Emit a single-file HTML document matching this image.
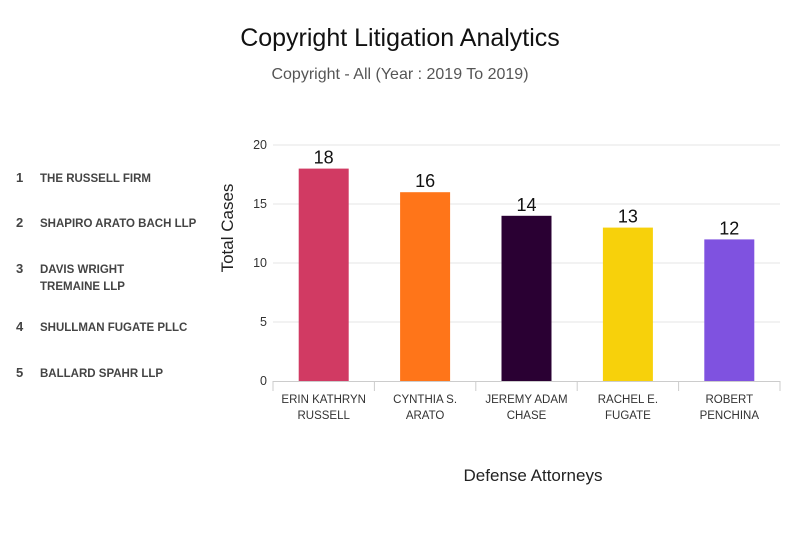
<!DOCTYPE html>
<html><head><meta charset="utf-8">
<style>
body{margin:0;background:#fff;font-family:"Liberation Sans",sans-serif;}
.wrap{position:relative;width:800px;height:534px;overflow:hidden;}
.list{position:absolute;left:16px;font-size:11.5px;font-weight:bold;color:#444;}
.list span.n{position:absolute;left:0;width:14px;font-size:13px;top:-1px;}
.list span.t{position:absolute;left:24px;width:220px;line-height:17px;white-space:nowrap;}
</style></head>
<body>
<div class="wrap">
<div>
<div class="list" style="top:171px"><span class="n">1</span><span class="t">THE RUSSELL FIRM</span></div>
<div class="list" style="top:216px"><span class="n">2</span><span class="t">SHAPIRO ARATO BACH LLP</span></div>
<div class="list" style="top:262px"><span class="n">3</span><span class="t">DAVIS WRIGHT<br>TREMAINE LLP</span></div>
<div class="list" style="top:320px"><span class="n">4</span><span class="t">SHULLMAN FUGATE PLLC</span></div>
<div class="list" style="top:366px"><span class="n">5</span><span class="t">BALLARD SPAHR LLP</span></div>
</div>
<svg id="chart" width="800" height="534" style="position:absolute;left:0;top:0"></svg>
</div>
<script>
const categories=[["ERIN KATHRYN","RUSSELL"],["CYNTHIA S.","ARATO"],["JEREMY ADAM","CHASE"],["RACHEL E.","FUGATE"],["ROBERT","PENCHINA"]];
const values=[18,16,14,13,12];
const colors=["#d13a63","#ff7519","#2a0033","#f7d10b","#7f52e0"];
const yTicks=[0,5,10,15,20];
const NS="http://www.w3.org/2000/svg";
const svg=document.getElementById('chart');
const x0=273,x1=780,yb=381,yt=145,yMax=20;
const bw=(x1-x0)/categories.length;
function y(v){return yb-(v/yMax)*(yb-yt);}
function xc(i){return x0+bw*(i+0.5);}
function mk(tag,attrs,text){const e=document.createElementNS(NS,tag);for(const k in attrs)e.setAttribute(k,attrs[k]);if(text!=null)e.textContent=text;svg.appendChild(e);return e;}
let e;
e=mk('text',{x:400,y:46,'text-anchor':'middle','font-size':25,fill:'#111'},'Copyright Litigation Analytics');


e=mk('text',{x:400,y:79,'text-anchor':'middle','font-size':16,fill:'#555'},'Copyright - All (Year : 2019 To 2019)');


yTicks.forEach(t=>{
 if(t>0){e=mk('line',{x1:x0,x2:x1,y1:y(t),y2:y(t),stroke:'#e6e6e6','stroke-width':1});
 
 }
 e=mk('text',{x:x0-6,y:y(t)+4,'text-anchor':'end','font-size':12.5,fill:'#333'},t);
 
 
});
e=mk('line',{x1:x0,x2:x1,y1:yb+0.5,y2:yb+0.5,stroke:'#ccc','stroke-width':1});


for(let i=0;i<=categories.length;i++){
 e=mk('line',{x1:x0+bw*i,x2:x0+bw*i,y1:yb,y2:yb+10,stroke:'#ccc','stroke-width':1});
 
 
}
values.forEach((v,i)=>{
 e=mk('rect',{x:xc(i)-25,y:y(v),width:50,height:yb-y(v),fill:colors[i]});
 
 
 e=mk('text',{x:xc(i),y:y(v)-5,'text-anchor':'middle','font-size':18,fill:'#111'},v);
 
 
 categories[i].forEach((ln,j)=>{
  e=mk('text',{x:xc(i),y:403+j*16,'text-anchor':'middle','font-size':11.5,fill:'#333'},ln);
  
  
 });
});
e=mk('text',{x:0,y:0,'text-anchor':'middle','font-size':17,fill:'#222',transform:'translate(233,228) rotate(-90)'},'Total Cases');


e=mk('text',{x:533,y:481,'text-anchor':'middle','font-size':17,fill:'#222'},'Defense Attorneys');


</script>
</body></html>
